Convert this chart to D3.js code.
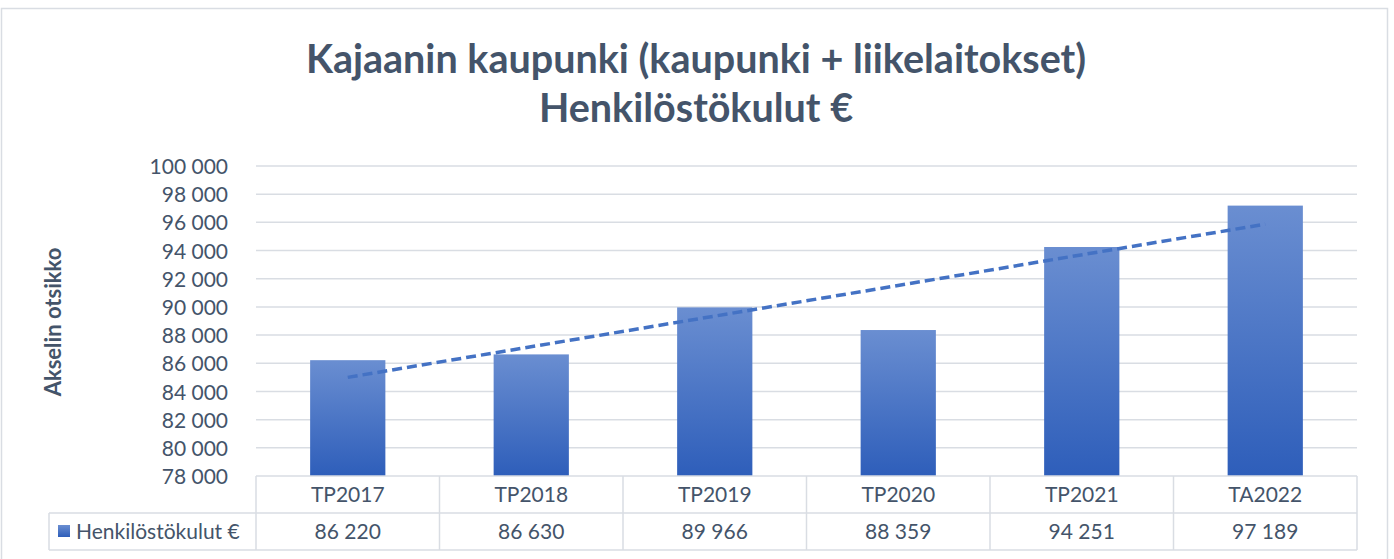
<!DOCTYPE html>
<html>
<head>
<meta charset="utf-8">
<script src="https://cdn.jsdelivr.net/npm/d3@7"></script>
<style>
	body { margin: 0; background: #fff; }
	svg { display: block; font-family: Lato, "Open Sans", sans-serif; }
</style>
</head>
<body>
<svg id="chart" width="1394" height="559"></svg>
<script>
var categories = ["TP2017", "TP2018", "TP2019", "TP2020", "TP2021", "TA2022"];
var values = [86220, 86630, 89966, 88359, 94251, 97189];
var yTicks = [78000, 80000, 82000, 84000, 86000, 88000, 90000, 92000, 94000, 96000, 98000, 100000];
var seriesName = "Henkilöstökulut €";
var titleLines = ["Kajaanin kaupunki (kaupunki + liikelaitokset)", "Henkilöstökulut €"];
var axisTitle = "Akselin otsikko";

var svg = d3.select("#chart"),
	width = +svg.attr("width"),
	height = +svg.attr("height"),
	margin = { top: 166, left: 256, right: 37, bottom: 83 };

var textColor = "#44546a",
	gridColor = "#d9dde3";

var fmt = d3.formatLocale({ decimal: ",", thousands: " ", grouping: [3], currency: ["", " €"] }).format(",d");

// gradient for bars
var defs = svg.append("defs");
var grad = defs.append("linearGradient").attr("id", "barGrad")
	.attr("x1", 0).attr("y1", 0).attr("x2", 0).attr("y2", 1);
grad.append("stop").attr("offset", "0%").attr("stop-color", "#6a8ed1");
grad.append("stop").attr("offset", "100%").attr("stop-color", "#2e5eba");

// outer border
svg.append("rect")
	.attr("x", 1.5).attr("y", 8.5)
	.attr("width", 1386).attr("height", 570)
	.attr("fill", "none").attr("stroke", gridColor).attr("stroke-width", 1.5);

// title
svg.append("g").selectAll("text").data(titleLines).enter().append("text")
	.attr("x", 696)
	.attr("y", function(d, i) { return 73 + i * 49; })
	.attr("text-anchor", "middle")
	.attr("font-size", 39.5)
	.attr("font-weight", "bold")
	.attr("fill", textColor)
	.text(function(d) { return d; });

var x = d3.scaleBand()
	.domain(categories)
	.range([margin.left, width - margin.right])
	.paddingInner(0.59)
	.paddingOuter(0.295);

var cols = d3.scaleBand()
	.domain(categories)
	.range([margin.left, width - margin.right]);

var y = d3.scaleLinear()
	.domain([78000, 100000])
	.range([height - margin.bottom, margin.top]);

// gridlines
svg.append("g").selectAll("line").data(yTicks.slice(1)).enter().append("line")
	.attr("x1", margin.left).attr("x2", width - margin.right)
	.attr("y1", function(d) { return y(d); })
	.attr("y2", function(d) { return y(d); })
	.attr("stroke", gridColor).attr("stroke-width", 1.5);

// y axis labels
var axisY = d3.axisLeft(y).tickValues(yTicks).tickFormat(fmt).tickSize(0).tickPadding(28);
var gy = svg.append("g").attr("transform", "translate(" + margin.left + ",0)").call(axisY);
gy.select(".domain").remove();
gy.selectAll("text")
	.attr("font-family", "Lato, sans-serif")
	.attr("font-size", 21)
	.attr("fill", textColor)
	.attr("dy", "0.36em");

// axis title
svg.append("text")
	.attr("transform", "translate(61,322) rotate(-90)")
	.attr("text-anchor", "middle")
	.attr("font-size", 22)
	.attr("font-weight", "bold")
	.attr("fill", textColor)
	.text(axisTitle);

// bars
svg.append("g").selectAll("rect").data(values).enter().append("rect")
	.attr("x", function(d, i) { return x(categories[i]); })
	.attr("y", function(d) { return y(d); })
	.attr("width", x.bandwidth())
	.attr("height", function(d) { return y(78000) - y(d); })
	.attr("fill", "url(#barGrad)");

// linear trendline
var n = values.length,
	mx = d3.mean(values, function(d, i) { return i + 1; }),
	my = d3.mean(values);
var sxy = d3.sum(values, function(d, i) { return (i + 1 - mx) * (d - my); }),
	sxx = d3.sum(values, function(d, i) { return (i + 1 - mx) * (i + 1 - mx); });
var slope = sxy / sxx,
	intercept = my - slope * mx;
var trend = categories.map(function(c, i) { return { c: c, v: intercept + slope * (i + 1) }; });
var line = d3.line()
	.x(function(d) { return x(d.c) + x.bandwidth() / 2; })
	.y(function(d) { return y(d.v); });
svg.append("path")
	.attr("d", line([trend[0], trend[n - 1]]))
	.attr("fill", "none")
	.attr("stroke", "#4472c4")
	.attr("stroke-width", 3.5)
	.attr("stroke-dasharray", "10,5");

// data table
var rowTop = y(78000), rowMid = rowTop + 37, rowBot = rowTop + 74;
var tableLeft = 49, tableRight = width - margin.right;
var tg = svg.append("g").attr("stroke", gridColor).attr("stroke-width", 1.5);
tg.append("line").attr("x1", margin.left).attr("x2", tableRight).attr("y1", rowTop).attr("y2", rowTop);
tg.append("line").attr("x1", tableLeft).attr("x2", tableRight).attr("y1", rowMid).attr("y2", rowMid);
tg.append("line").attr("x1", tableLeft).attr("x2", tableRight).attr("y1", rowBot).attr("y2", rowBot);
tg.append("line").attr("x1", tableLeft).attr("x2", tableLeft).attr("y1", rowMid).attr("y2", rowBot);
tg.selectAll(".vcol").data(categories).enter().append("line")
	.attr("x1", function(d) { return cols(d); })
	.attr("x2", function(d) { return cols(d); })
	.attr("y1", rowTop).attr("y2", rowBot);
tg.append("line").attr("x1", tableRight).attr("x2", tableRight).attr("y1", rowTop).attr("y2", rowBot);

svg.append("g").selectAll("text").data(categories).enter().append("text")
	.attr("x", function(d) { return cols(d) + cols.bandwidth() / 2; })
	.attr("y", rowTop + 18.5)
	.attr("dy", "0.36em")
	.attr("text-anchor", "middle")
	.attr("font-size", 21)
	.attr("fill", textColor)
	.text(function(d) { return d; });

svg.append("g").selectAll("text").data(values).enter().append("text")
	.attr("x", function(d, i) { return cols(categories[i]) + cols.bandwidth() / 2; })
	.attr("y", rowMid + 18.5)
	.attr("dy", "0.36em")
	.attr("text-anchor", "middle")
	.attr("font-size", 21)
	.attr("fill", textColor)
	.text(function(d) { return fmt(d); });

// legend key
svg.append("rect")
	.attr("x", 58).attr("y", rowMid + 12)
	.attr("width", 12).attr("height", 12)
	.attr("fill", "url(#barGrad)");
svg.append("text")
	.attr("x", 76).attr("y", rowMid + 18.5)
	.attr("dy", "0.36em")
	.attr("font-size", 21)
	.attr("fill", textColor)
	.text(seriesName);
</script>
</body>
</html>
